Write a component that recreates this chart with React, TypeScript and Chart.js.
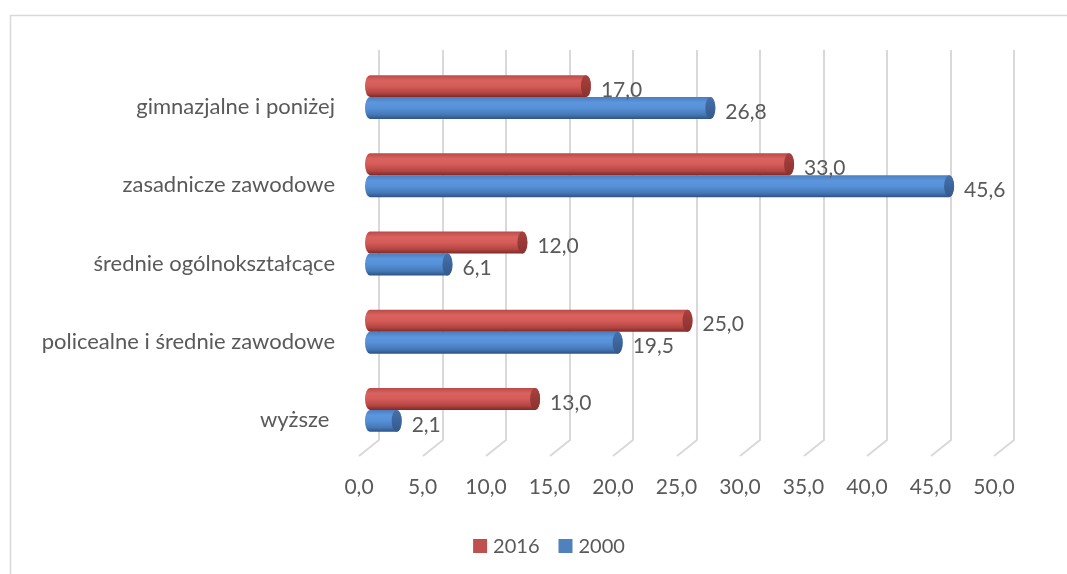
import React, { useEffect, useRef } from "react";
import { Chart, registerables } from "chart.js";

Chart.register(...registerables);

const categories = [
  "gimnazjalne i poniżej",
  "zasadnicze zawodowe",
  "średnie ogólnokształcące",
  "policealne i średnie zawodowe",
  "wyższe ",
];
const values2016 = [17.0, 33.0, 12.0, 25.0, 13.0];
const values2000 = [26.8, 45.6, 6.1, 19.5, 2.1];
const seriesLabels = ["2016", "2000"];
const xTickMin = 0;
const xTickMax = 50;
const xTickStep = 5;

const FONT = "Lato";
const TEXT = "#595959";
const GRID = "#D9D9D9";

const palettes = [
  { base: "#C0504D", stops: ["#B94A47", "#DA635F", "#D55C58", "#B54643", "#7E2A28"], cap: ["#A8413E", "#8A3230"] },
  { base: "#4F81BD", stops: ["#4A7EBF", "#5C96DD", "#5690D7", "#4678B7", "#2E5284"], cap: ["#4571AA", "#34598C"] },
];

const fmt = (v: number) => v.toFixed(1).replace(".", ",");

const cylinderPlugin = {
  id: "cylinder",
  beforeDraw(chart: any) {
    const ctx = chart.ctx;
    ctx.save();
    ctx.strokeStyle = GRID;
    ctx.lineWidth = 1.5;
    ctx.strokeRect(10.5, 15.5, chart.width + 40, chart.height + 40);
    ctx.restore();
  },
  beforeDatasetsDraw(chart: any) {
    const ctx = chart.ctx;
    const xs = chart.scales.x;
    const area = chart.chartArea;
    ctx.save();
    ctx.strokeStyle = GRID;
    ctx.lineWidth = 2;
    for (let v = xTickMin; v <= xTickMax; v += xTickStep) {
      const px = Math.round(xs.getPixelForValue(v)) + 9;
      ctx.beginPath();
      ctx.moveTo(px, area.top - 8);
      ctx.lineTo(px, area.bottom - 9);
      ctx.lineTo(px - 20, area.bottom + 7);
      ctx.stroke();
    }
    ctx.restore();
  },
  beforeDatasetDraw(chart: any, args: any) {
    const ctx = chart.ctx;
    const meta = args.meta;
    const pal = palettes[args.index];
    ctx.save();
    meta.data.forEach((el: any, i: number) => {
      const x = el.x;
      const base = el.base;
      const y = el.y;
      const h = el.height;
      const top = y - h / 2;
      const bottom = y + h / 2;
      const rx = 5;
      const ry = h / 2;
      const g = ctx.createLinearGradient(0, top, 0, bottom);
      const s = pal.stops;
      g.addColorStop(0, s[0]);
      g.addColorStop(0.25, s[1]);
      g.addColorStop(0.5, s[2]);
      g.addColorStop(0.8, s[3]);
      g.addColorStop(1, s[4]);
      ctx.beginPath();
      ctx.moveTo(base, top);
      ctx.lineTo(x, top);
      ctx.ellipse(x, y, rx, ry, 0, -Math.PI / 2, Math.PI / 2, false);
      ctx.lineTo(base, bottom);
      ctx.ellipse(base, y, rx, ry, 0, Math.PI / 2, (3 * Math.PI) / 2, false);
      ctx.closePath();
      ctx.fillStyle = g;
      ctx.fill();
      const cg = ctx.createLinearGradient(0, top, 0, bottom);
      cg.addColorStop(0, pal.cap[0]);
      cg.addColorStop(1, pal.cap[1]);
      ctx.beginPath();
      ctx.ellipse(x, y, rx, ry, 0, 0, Math.PI * 2);
      ctx.fillStyle = cg;
      ctx.fill();
      const val = chart.data.datasets[args.index].data[i];
      ctx.font = `21px ${FONT}`;
      ctx.fillStyle = TEXT;
      ctx.textAlign = "left";
      ctx.textBaseline = "middle";
      ctx.fillText(fmt(val), x + rx + 10, y + 4);
    });
    ctx.restore();
    return false;
  },
  afterDraw(chart: any) {
    const ctx = chart.ctx;
    ctx.save();
    ctx.font = `20px ${FONT}`;
    ctx.textBaseline = "middle";
    ctx.textAlign = "left";
    const box = 14;
    const gapText = 6;
    const gapItem = 19;
    const ds = chart.data.datasets;
    let total = 0;
    ds.forEach((d: any, i: number) => {
      total += box + gapText + ctx.measureText(d.label).width;
      if (i < ds.length - 1) total += gapItem;
    });
    let x = 549 - total / 2;
    const cy = 546;
    ds.forEach((d: any) => {
      ctx.fillStyle = d.backgroundColor;
      ctx.fillRect(x, cy - box / 2, box, box);
      x += box + gapText;
      ctx.fillStyle = TEXT;
      ctx.fillText(d.label, x, cy + 1);
      x += ctx.measureText(d.label).width + gapItem;
    });
    ctx.restore();
  },
};

export default function App() {
  const ref = useRef<HTMLCanvasElement>(null);
  useEffect(() => {
    if (!ref.current) return;
    const chart = new Chart(ref.current, {
      type: "bar",
      data: {
        labels: categories,
        datasets: [
          { label: seriesLabels[0], data: values2016, backgroundColor: palettes[0].base },
          { label: seriesLabels[1], data: values2000, backgroundColor: palettes[1].base },
        ],
      },
      options: {
        indexAxis: "y",
        animation: false,
        responsive: true,
        maintainAspectRatio: false,
        layout: { padding: { top: 58, right: 62, left: 0, bottom: 0 } },
        datasets: { bar: { categoryPercentage: 0.562, barPercentage: 1 } },
        plugins: { legend: { display: false }, tooltip: { enabled: false } },
        scales: {
          x: {
            min: xTickMin,
            max: xTickMax,
            grid: { display: false },
            border: { display: false },
            ticks: {
              stepSize: xTickStep,
              color: TEXT,
              font: { family: FONT, size: 21 },
              padding: 18,
              labelOffset: -11,
              maxRotation: 0,
              callback: (v: any) => fmt(Number(v)),
            },
            afterFit: (s: any) => {
              s.height = 125;
            },
          },
          y: {
            grid: { display: false, drawTicks: false },
            border: { display: false },
            ticks: {
              color: TEXT,
              font: { family: FONT, size: 22 },
              padding: 35,
              labelOffset: 10,
            },
            afterFit: (s: any) => {
              s.width = 370;
            },
          },
        },
      },
      plugins: [cylinderPlugin],
    });
    return () => chart.destroy();
  }, []);
  return (
    <div style={{ position: "fixed", left: 0, top: 0, width: 1067, height: 574, background: "#fff" }}>
      <canvas ref={ref} />
    </div>
  );
}
